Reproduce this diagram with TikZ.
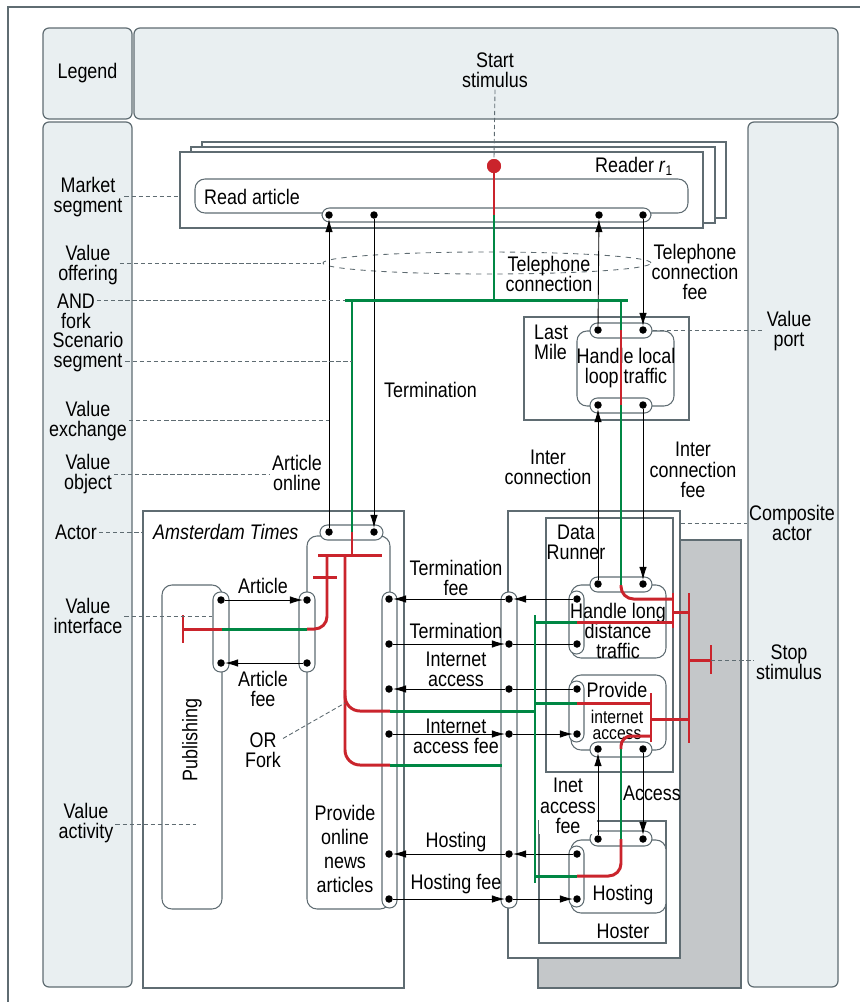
\documentclass[tikz,border=0pt]{standalone}
\usepackage{fontspec}
\setmainfont{Liberation Sans}[FakeStretch=0.85]
\usepackage{tikz}
\usetikzlibrary{positioning,arrows.meta,shapes.geometric,calc,fit}
\definecolor{e3green}{RGB}{0,135,68}
\definecolor{e3red}{RGB}{202,36,44}
\definecolor{panelfill}{RGB}{233,239,241}
\definecolor{linegray}{RGB}{95,108,114}
\definecolor{shadowgray}{RGB}{196,199,201}
\tikzset{
  panel/.style={rounded corners=1.2mm, draw=linegray, fill=panelfill, line width=0.7pt, inner sep=0pt},
  actor/.style={draw=linegray, fill=white, line width=0.6pt, inner sep=0pt},
  activity/.style={draw=linegray, fill=white, rounded corners=2mm, line width=0.6pt, inner sep=0pt},
  iface/.style={draw=linegray, fill=white, rounded corners=1.5mm, line width=0.6pt, inner sep=0pt},
  port/.style={circle, fill=black, inner sep=0pt, minimum size=1.5mm},
  startdot/.style={circle, fill=e3red, inner sep=0pt, minimum size=2.8mm},
  exch/.style={-{Latex[length=2.6mm,width=1.5mm]}, line width=0.5pt},
  plainexch/.style={line width=0.5pt},
  gpath/.style={draw=e3green, line width=1.7pt},
  rpath/.style={draw=e3red, line width=1.7pt},
  guide/.style={draw=linegray, line width=0.5pt, dash pattern=on 2.5pt off 1.5pt},
  lbl/.style={align=center, inner sep=1pt},
}

\begin{document}
\begin{tikzpicture}[x=0.02cm, y=-0.02cm, font=\fontsize{12}{11.5}\selectfont]
  \useasboundingbox (0,0) rectangle (860,1002);
  \draw[linegray, line width=0.8pt] (8,1002) -- (8,7) -- (860,7);

  % legend panels
  \node[panel, fit={(43,28) (132,119)}] (legendbox) {};
  \node[panel, fit={(134,28) (838,119)}] (topbox) {};
  \node[panel, fit={(43,122) (132,987)}] (leftcol) {};
  \node[panel, fit={(748,122) (838,987)}] (rightcol) {};
  \node (legend) at (legendbox) {Legend};
  \node[lbl] (lStart) at (495,70) {Start\\stimulus};

  % reader market segment
  \draw[actor] (202,142) rectangle (726,218);
  \draw[actor] (191,147) rectangle (715,223);
  \node[actor, fit={(180,152) (703,228)}] (reader) {};
  \node[anchor=west] (readerLbl) at (589,166) {Reader \textit{r}\textsubscript{1}};
  \node[activity, fit={(195,179) (688,213)}] (readart) {};
  \node[anchor=west] (readartLbl) at (198,197) {Read article};
  \node[iface, fit={(322,208) (651,222)}] (readIf) {};
  \node[draw=linegray, dashed, ellipse, minimum width=65.6mm, minimum height=4.4mm,
        inner sep=0pt, line width=0.5pt] (offer) at (487,263) {};

  % last mile
  \node[actor, fit={(524,317) (689,420)}] (lastmile) {};
  \node[anchor=north west, align=left, inner sep=1pt] (lastmileLbl) at (532,323) {Last\\Mile};
  \node[activity, fit={(577,331) (674,406)}] (localloop) {};
  \node[iface, fit={(590,323) (652,338)}] (llTop) {};
  \node[iface, fit={(590,398) (652,413)}] (llBot) {};
  \node[lbl] (localloopLbl) at (626,368) {Handle local\\loop traffic};

  % amsterdam times
  \node[actor, fit={(143,511) (404,988)}] (amsterdam) {};
  \node[anchor=west] (amsterdamLbl) at (147,532) {\textit{Amsterdam Times}};
  \node[activity, fit={(162,585) (222,909)}] (publishing) {};
  \node[rotate=90] (publishingLbl) at (192,740) {Publishing};
  \node[activity, fit={(307,536) (390,909)}] (pona) {};
  \node[iface, fit={(320,525) (383,540)}] (atTop) {};
  \node[iface, fit={(213,592) (229,672)}] (pubIf) {};
  \node[iface, fit={(299,592) (315,672)}] (ponaL) {};
  \node[iface, fit={(382,592) (397,908)}] (ponaR) {};
  \node[lbl, font=\fontsize{12}{13.5}\selectfont] (ponaLbl) at (345,849) {Provide\\online\\news\\articles};

  % composite actor
  \draw[linegray, fill=shadowgray, line width=0.6pt] (538,540) rectangle (741,988);
  \node[actor, fit={(508,511) (680,958)}] (composite) {};
  \node[iface, fit={(501,592) (517,908)}] (compIf) {};
  \node[actor, fit={(546,518) (673,772)}] (datarunner) {};
  \node[lbl] (datarunnerLbl) at (576,542) {Data\\Runner};
  \node[activity, fit={(571,585) (666,658)}] (longdist) {};
  \node[iface, fit={(590,577) (652,592)}] (ldTop) {};
  \node[iface, fit={(569,591) (584,654)}] (ldLeft) {};
  \node[lbl] (longdistLbl) at (618,631) {Handle long\\distance\\traffic};
  \node[activity, fit={(571,675) (666,750)}] (inetacc) {};
  \node[iface, fit={(569,681) (584,742)}] (piLeft) {};
  \node[iface, fit={(590,742) (652,757)}] (piBot) {};
  \node (inetaccLbl) at (617,690) {Provide};
  \node[lbl, font=\fontsize{10.5}{9}\selectfont] (inetaccLbl2) at (617,725) {internet\\access};
  \node[actor, fit={(539,821) (666,943)}] (hoster) {};
  \node (hosterLbl) at (623,931) {Hoster};
  \node[activity, fit={(571,840) (666,913)}] (hosting) {};
  \node[iface, fit={(590,831) (652,846)}] (hoTop) {};
  \node[iface, fit={(569,846) (584,907)}] (hoLeft) {};
  \node (hostingLbl) at (623,895) {Hosting};

  % ports
  \node[port] (rdP1) at (329,215) {};
  \node[port] (rdP2) at (374,215) {};
  \node[port] (rdP3) at (599,215) {};
  \node[port] (rdP4) at (643,215) {};
  \node[port] (llP1) at (598,330) {};
  \node[port] (llP2) at (643,330) {};
  \node[port] (llP3) at (598,405) {};
  \node[port] (llP4) at (643,405) {};
  \node[port] (atP1) at (329,532) {};
  \node[port] (atP2) at (374,532) {};
  \node[port] (pbP1) at (221,600) {};
  \node[port] (pbP2) at (221,663) {};
  \node[port] (poL1) at (307,600) {};
  \node[port] (poL2) at (307,663) {};
  \foreach \i/\y in {1/599,2/644,3/689,4/734,5/854,6/899} {
    \node[port] (poR\i) at (389,\y) {};
    \node[port] (cp\i) at (509,\y) {};
  }
  \node[port] (ldT1) at (598,584) {};
  \node[port] (ldT2) at (643,584) {};
  \node[port] (ldL1) at (577,599) {};
  \node[port] (ldL2) at (577,644) {};
  \node[port] (piL1) at (577,689) {};
  \node[port] (piL2) at (577,734) {};
  \node[port] (piB1) at (598,749) {};
  \node[port] (piB2) at (643,749) {};
  \node[port] (hoT1) at (598,839) {};
  \node[port] (hoT2) at (643,839) {};
  \node[port] (hoL1) at (577,854) {};
  \node[port] (hoL2) at (577,899) {};

  % value exchanges
  \draw[exch] (atP1) -- (rdP1);
  \draw[exch] (rdP2) -- (atP2);
  \draw[exch] (llP1) -- (rdP3);
  \draw[exch] (rdP4) -- (llP2);
  \draw[exch] (ldT1) -- (llP3);
  \draw[exch] (llP4) -- (ldT2);
  \draw[exch] (pbP1) -- (poL1);
  \draw[exch] (poL2) -- (pbP2);
  \draw[exch] (ldL1) -- (cp1);
  \draw[exch] (cp1) -- (poR1);
  \draw[exch] (poR2) -- (cp2);
  \draw[plainexch] (cp2) -- (ldL2);
  \draw[plainexch] (piL1) -- (cp3);
  \draw[exch] (cp3) -- (poR3);
  \draw[exch] (poR4) -- (cp4);
  \draw[exch] (cp4) -- (piL2);
  \draw[exch] (hoL1) -- (cp5);
  \draw[exch] (cp5) -- (poR5);
  \draw[exch] (poR6) -- (cp6);
  \draw[exch] (cp6) -- (hoL2);
  \draw[exch] (hoT1) -- (piB1);
  \draw[exch] (piB2) -- (hoT2);

  % scenario paths
  \node[startdot] (start) at (494,166) {};
  \coordinate (andfork) at (494,300);
  \draw[rpath] (start.center) -- (494,215);
  \draw[gpath] (494,215) -- (andfork);
  \draw[gpath] (345,300) -- (628,300);
  \draw[gpath] (352,300) -- (352,532);
  \draw[rpath] (352,532) -- (352,555);
  \draw[gpath] (621,300) -- (621,330);
  \draw[rpath] (621,330) -- (621,405);
  \draw[gpath] (621,405) -- (621,585);
  \draw[rpath, rounded corners=2.5mm] (621,585) -- (621,599) -- (673,599);
  % amsterdam times
  \draw[rpath] (318,555) -- (382,555);
  \draw[rpath, rounded corners=2.5mm] (327,555) -- (327,629) -- (307,629);
  \draw[rpath] (313,577) -- (337,577);
  \draw[gpath] (307,629) -- (222,629);
  \draw[rpath] (222,629) -- (183,629);
  \draw[rpath] (183,615) -- (183,643);
  \draw[rpath, rounded corners=3mm] (345,555) -- (345,765) -- (390,765);
  \draw[rpath, rounded corners=3mm] (345,690) -- (345,711) -- (390,711);
  \draw[gpath] (390,711) -- (535,711);
  \draw[gpath] (390,765) -- (502,765);
  % data runner
  \draw[gpath] (535,615) -- (535,883);
  \draw[gpath] (535,622) -- (577,622);
  \draw[rpath] (577,622) -- (673,622);
  \draw[gpath] (535,703) -- (577,703);
  \draw[rpath] (577,703) -- (651,703);
  \draw[gpath] (535,876) -- (577,876);
  \draw[rpath, rounded corners=2.5mm] (577,876) -- (621,876) -- (621,839);
  \draw[gpath] (621,839) -- (621,749);
  \draw[rpath, rounded corners=2mm] (621,749) -- (621,736) -- (651,736);
  \draw[rpath] (673,593) -- (673,628);
  \draw[rpath] (673,612) -- (689,612);
  \draw[rpath] (651,693) -- (651,742);
  \draw[rpath] (651,719) -- (689,719);
  \draw[rpath] (689,593) -- (689,743);
  \draw[rpath] (689,660) -- (711,660);
  \coordinate (stopbar) at (711,660);
  \draw[rpath] (711,645) -- (711,674);
  \node[startdot] at (start) {};

  % exchange labels
  \node[lbl] (artonlineLbl) at (297,473) {Article\\online};
  \node[anchor=west] (termLbl) at (378,390) {Termination};
  \node[lbl] (telconLbl) at (549,274) {Telephone\\connection};
  \node[lbl] (telfeeLbl) at (695,272) {Telephone\\connection\\fee};
  \node[lbl] (interconLbl) at (548,467) {Inter\\connection};
  \node[lbl] (interfeeLbl) at (693,470) {Inter\\connection\\fee};
  \node[lbl] (articleLbl) at (263,586) {Article};
  \node[lbl] (articlefeeLbl) at (263,689) {Article\\fee};
  \node[lbl] (orLbl) at (263,750) {OR\\Fork};
  \node[lbl] (termfeeLbl) at (456,578) {Termination\\fee};
  \node[lbl] (termLbl2) at (456,631) {Termination};
  \node[lbl] (inetLbl) at (456,669) {Internet\\access};
  \node[lbl] (inetfeeLbl) at (456,736) {Internet\\access fee};
  \node[lbl] (hostLbl) at (456,842) {Hosting};
  \node[lbl] (hostfeeLbl) at (456,884) {Hosting fee};
  \node[lbl, fill=white, inner sep=0.5pt] (inetaccfeeLbl) at (568,806) {Inet\\access\\fee};
  \node[lbl] (accessLbl) at (652,793) {Access};

  % legend labels
  \node[lbl] (lMarket) at (88,197) {Market\\segment};
  \node[lbl] (lOffer) at (88,265) {Value\\offering};
  \node[lbl] (lAnd) at (76,311) {AND\\fork};
  \node[lbl] (lScen) at (88,352) {Scenario\\segment};
  \node[lbl] (lExch) at (88,421) {Value\\exchange};
  \node[lbl] (lObj) at (88,474) {Value\\object};
  \node[lbl] (lActor) at (76,532) {Actor};
  \node[lbl] (lIface) at (88,616) {Value\\interface};
  \node[lbl] (lActv) at (86,823) {Value\\activity};
  \node[lbl] (lPort) at (789,331) {Value\\port};
  \node[lbl] (lComp) at (792,523) {Composite\\actor};
  \node[lbl] (lStop) at (789,662) {Stop\\stimulus};

  % legend guides
  \coordinate (gMarket) at (180,196);
  \coordinate (gAnd) at (345,300);
  \coordinate (gScen) at (352,361);
  \coordinate (gExch) at (329,420);
  \coordinate (gActv) at (196,824);
  \coordinate (gOr) at (345,703);
  \draw[guide] (lStart.south) -- (start.north);
  \draw[guide] (lMarket.east |- gMarket) -- (gMarket);
  \draw[guide] (lOffer.east |- offer.west) -- (offer.west);
  \draw[guide] (lAnd.east |- gAnd) -- (gAnd);
  \draw[guide] (lScen.east |- gScen) -- (gScen);
  \draw[guide] (lExch.east |- gExch) -- (gExch);
  \draw[guide] (lObj.east) -- (lObj.east -| artonlineLbl.west);
  \draw[guide] (lActor.east) -- (lActor.east -| amsterdam.west);
  \draw[guide] (lIface.east) -- (lIface.east -| pubIf.west);
  \draw[guide] (lActv.east |- gActv) -- (gActv);
  \draw[guide] (orLbl.30) -- (gOr);
  \draw[guide] (llTop.east) -- (llTop.east -| lPort.west);
  \draw[guide] (lComp.west -| composite.east) -- (lComp.west);
  \draw[guide] (stopbar) -- (stopbar -| lStop.west);
\end{tikzpicture}
\end{document}
